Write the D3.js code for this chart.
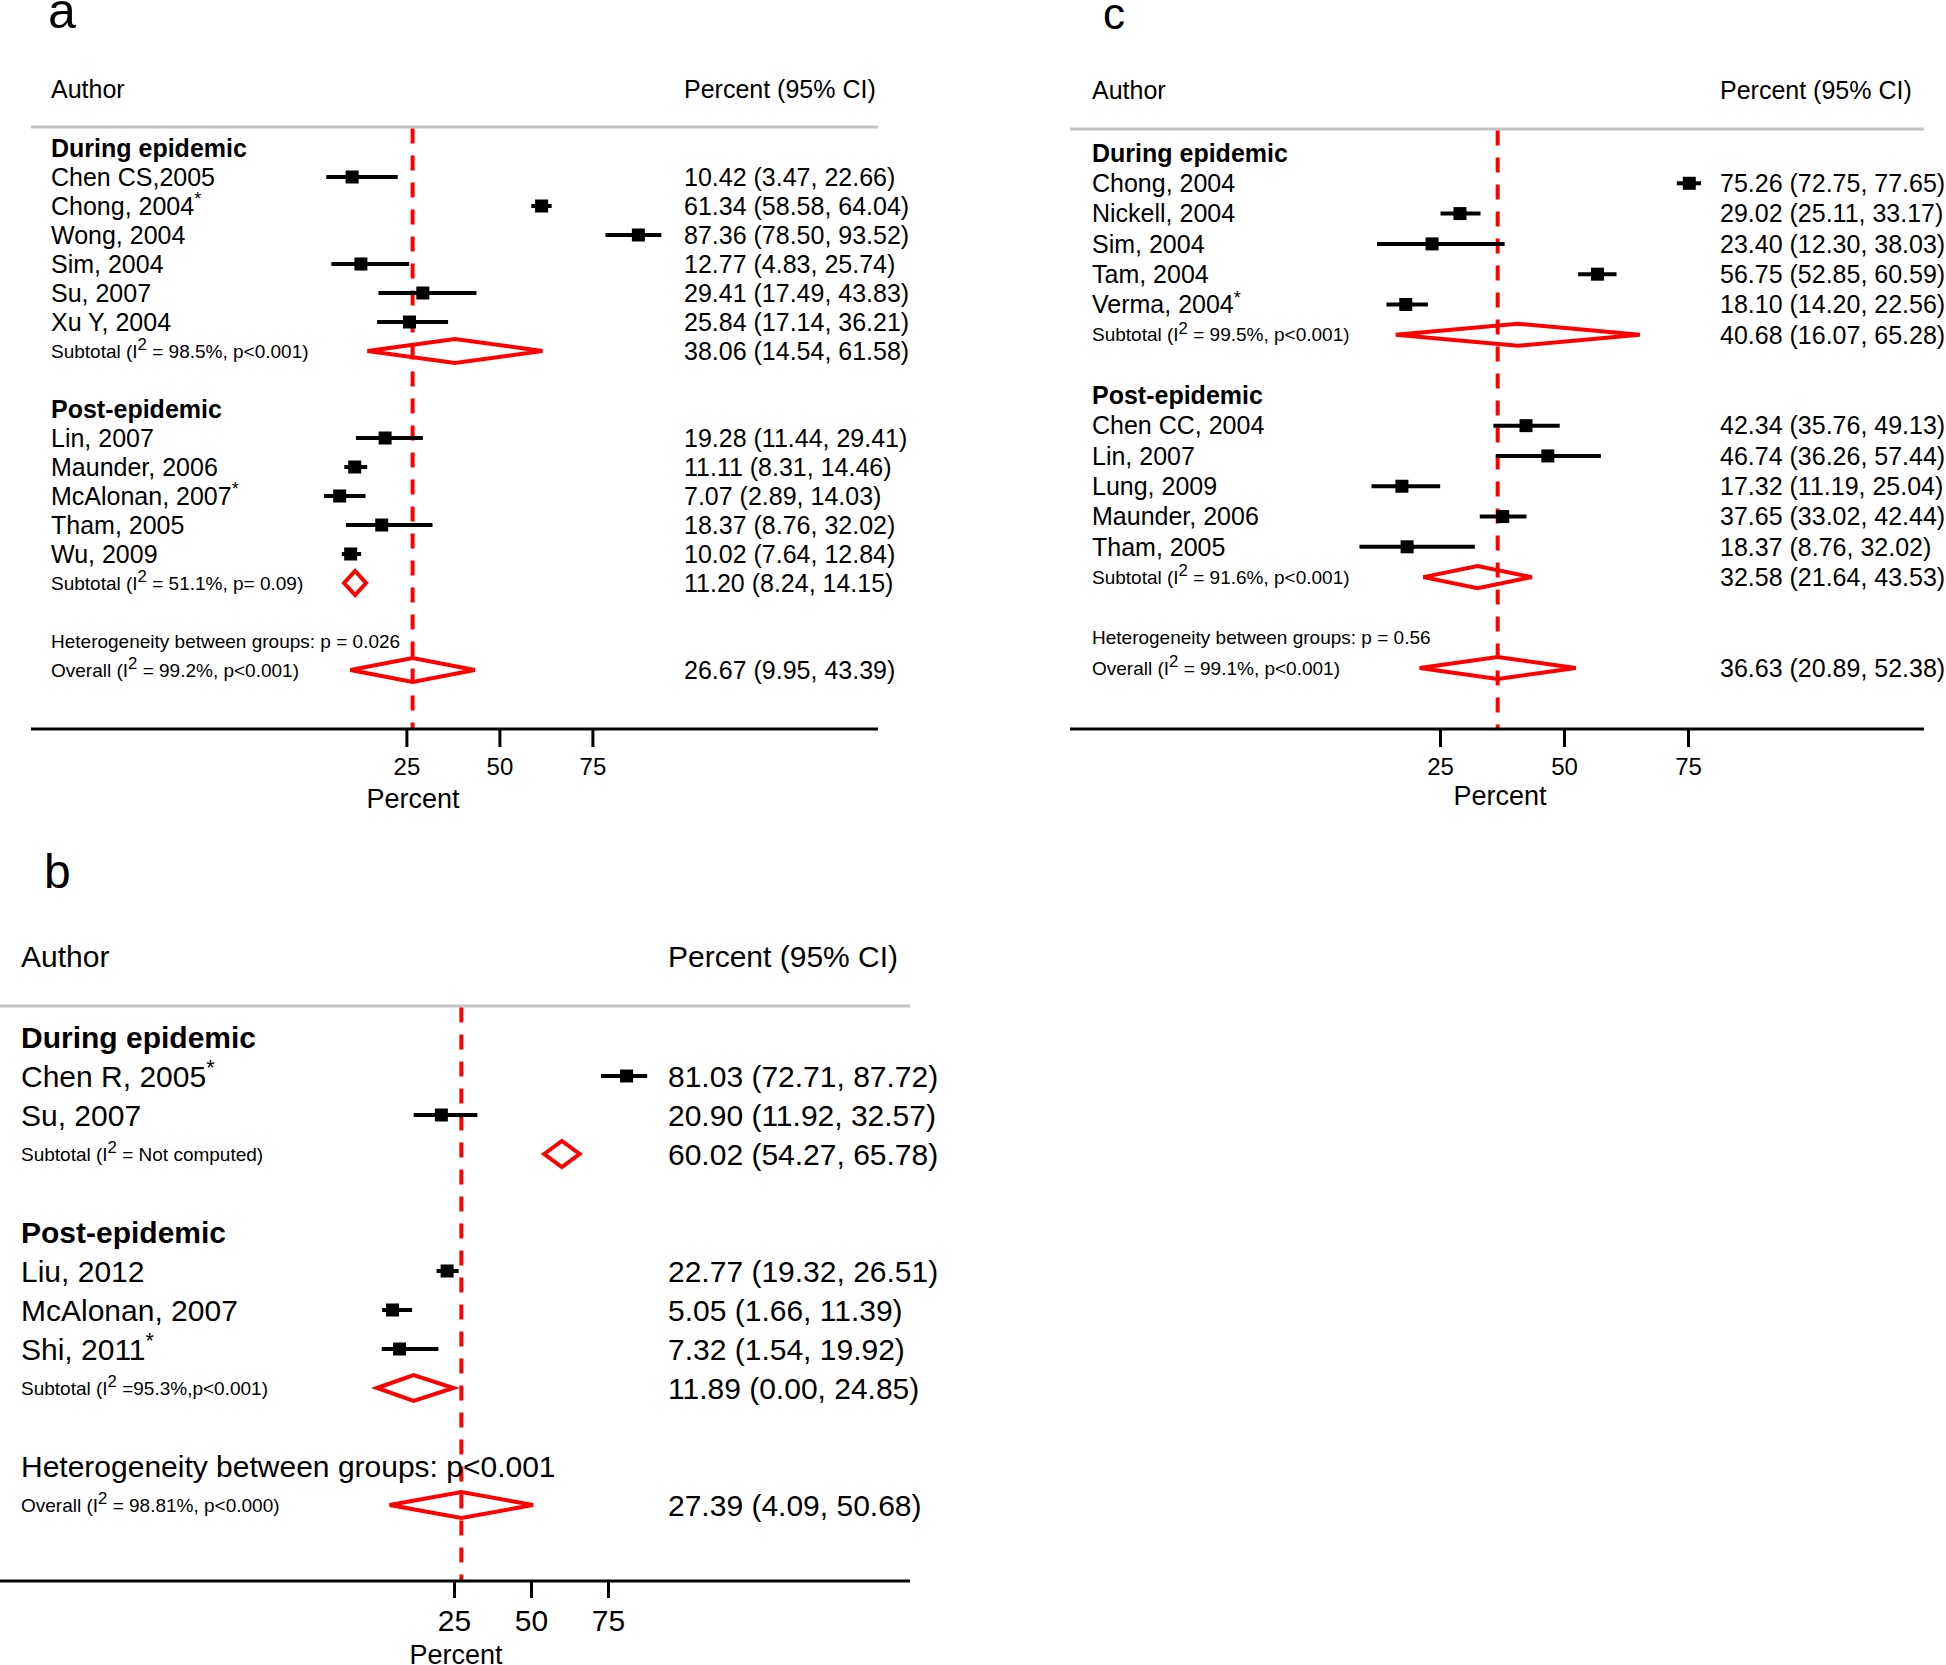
<!DOCTYPE html>
<html><head><meta charset="utf-8">
<script src="https://cdn.jsdelivr.net/npm/d3@7"></script>
<style>
body{margin:0;background:#fff}
svg{display:block}
text{font-family:"Liberation Sans",Arial,Helvetica,sans-serif;fill:#000}
</style>
</head><body>
<svg id="chart" width="1946" height="1665"></svg>
<script>
// ---------- Panel a data ----------
const aDuringAuthors = ["Chen CS,2005", "Chong, 2004*", "Wong, 2004", "Sim, 2004", "Su, 2007", "Xu Y, 2004"];
const aDuringEst  = [10.42, 61.34, 87.36, 12.77, 29.41, 25.84];
const aDuringLow  = [3.47, 58.58, 78.50, 4.83, 17.49, 17.14];
const aDuringHigh = [22.66, 64.04, 93.52, 25.74, 43.83, 36.21];
const aDuringSub  = [38.06, 14.54, 61.58];
const aDuringSubLabel = "Subtotal (I² = 98.5%, p<0.001)";
const aPostAuthors = ["Lin, 2007", "Maunder, 2006", "McAlonan, 2007*", "Tham, 2005", "Wu, 2009"];
const aPostEst  = [19.28, 11.11, 7.07, 18.37, 10.02];
const aPostLow  = [11.44, 8.31, 2.89, 8.76, 7.64];
const aPostHigh = [29.41, 14.46, 14.03, 32.02, 12.84];
const aPostSub  = [11.20, 8.24, 14.15];
const aPostSubLabel = "Subtotal (I² = 51.1%, p= 0.09)";
const aHetLabel = "Heterogeneity between groups: p = 0.026";
const aOverall = [26.67, 9.95, 43.39];
const aOverallLabel = "Overall (I² = 99.2%, p<0.001)";

// ---------- Panel b data ----------
const bDuringAuthors = ["Chen R, 2005*", "Su, 2007"];
const bDuringEst  = [81.03, 20.90];
const bDuringLow  = [72.71, 11.92];
const bDuringHigh = [87.72, 32.57];
const bDuringSub  = [60.02, 54.27, 65.78];
const bDuringSubLabel = "Subtotal (I² = Not computed)";
const bPostAuthors = ["Liu, 2012", "McAlonan, 2007", "Shi, 2011*"];
const bPostEst  = [22.77, 5.05, 7.32];
const bPostLow  = [19.32, 1.66, 1.54];
const bPostHigh = [26.51, 11.39, 19.92];
const bPostSub  = [11.89, 0.00, 24.85];
const bPostSubLabel = "Subtotal (I² =95.3%,p<0.001)";
const bHetLabel = "Heterogeneity between groups: p<0.001";
const bOverall = [27.39, 4.09, 50.68];
const bOverallLabel = "Overall (I² = 98.81%, p<0.000)";

// ---------- Panel c data ----------
const cDuringAuthors = ["Chong, 2004", "Nickell, 2004", "Sim, 2004", "Tam, 2004", "Verma, 2004*"];
const cDuringEst  = [75.26, 29.02, 23.40, 56.75, 18.10];
const cDuringLow  = [72.75, 25.11, 12.30, 52.85, 14.20];
const cDuringHigh = [77.65, 33.17, 38.03, 60.59, 22.56];
const cDuringSub  = [40.68, 16.07, 65.28];
const cDuringSubLabel = "Subtotal (I² = 99.5%, p<0.001)";
const cPostAuthors = ["Chen CC, 2004", "Lin, 2007", "Lung, 2009", "Maunder, 2006", "Tham, 2005"];
const cPostEst  = [42.34, 46.74, 17.32, 37.65, 18.37];
const cPostLow  = [35.76, 36.26, 11.19, 33.02, 8.76];
const cPostHigh = [49.13, 57.44, 25.04, 42.44, 32.02];
const cPostSub  = [32.58, 21.64, 43.53];
const cPostSubLabel = "Subtotal (I² = 91.6%, p<0.001)";
const cHetLabel = "Heterogeneity between groups: p = 0.56";
const cOverall = [36.63, 20.89, 52.38];
const cOverallLabel = "Overall (I² = 99.1%, p<0.001)";

const groupNames = ["During epidemic", "Post-epidemic"];
const tickValues = [25, 50, 75];
const colHeaders = ["Author", "Percent (95% CI)"];
const axisTitle = "Percent";

const svg = d3.select("#chart");

function fmt(v){ return v.toFixed(2); }
function ciText(a){ return fmt(a[0]) + " (" + fmt(a[1]) + ", " + fmt(a[2]) + ")"; }

function richText(sel, str, size) {
  let s = str, star = false;
  if (s.endsWith("*")) { star = true; s = s.slice(0, -1); }
  const parts = s.split("²");
  sel.append("tspan").text(parts[0]);
  if (parts.length > 1) {
    const sh = size * 0.4;
    sel.append("tspan").attr("font-size", size * 0.88).attr("dy", -sh).text("2");
    sel.append("tspan").attr("dy", sh).text(parts[1]);
  }
  if (star) {
    sel.append("tspan").attr("font-size", size * 0.72).attr("dy", -size * 0.38).text("*");
  }
}

function buildRows(d) {
  const rows = [];
  rows.push({type: "group", label: groupNames[0]});
  d.dA.forEach((a, i) => rows.push({type: "study", label: a, v: [d.dE[i], d.dL[i], d.dH[i]]}));
  rows.push({type: "sub", label: d.dSL, v: d.dS});
  rows.push({type: "blank"});
  rows.push({type: "group", label: groupNames[1]});
  d.pA.forEach((a, i) => rows.push({type: "study", label: a, v: [d.pE[i], d.pL[i], d.pH[i]]}));
  rows.push({type: "sub", label: d.pSL, v: d.pS});
  rows.push({type: "blank"});
  rows.push({type: "het", label: d.het});
  rows.push({type: "sub", label: d.oL, v: d.o});
  return rows;
}

function drawPanel(d, L) {
  const g = svg.append("g");
  const rows = buildRows(d);
  const x = d3.scaleLinear().domain([0, 75]).range(L.xr);
  const y = d3.scaleLinear().domain([0, rows.length - 1]).range(L.yr);

  g.append("text").attr("x", L.letter[0]).attr("y", L.letter[1])
    .attr("font-size", L.letter[2]).text(L.letterText);

  g.append("text").attr("x", L.textX).attr("y", L.headY).attr("font-size", L.fs).text(colHeaders[0]);
  g.append("text").attr("x", L.valX).attr("y", L.headY).attr("font-size", L.fs).text(colHeaders[1]);

  g.append("line").attr("x1", L.lineX[0]).attr("x2", L.lineX[1])
    .attr("y1", L.grayY).attr("y2", L.grayY)
    .attr("stroke", "#c3c3c3").attr("stroke-width", 3);

  // overall reference dashed line
  const ov = d.o[0];
  g.append("line").attr("x1", x(ov)).attr("x2", x(ov))
    .attr("y1", L.grayY + 1.5).attr("y2", L.axisY)
    .attr("stroke", "#ff0000").attr("stroke-width", 4).attr("stroke-dasharray", "15,12");

  rows.forEach((r, k) => {
    const yc = y(k);
    if (r.type === "group") {
      g.append("text").attr("x", L.textX).attr("y", yc + L.fs * 0.35)
        .attr("font-size", L.fs).attr("font-weight", "bold").text(r.label);
    } else if (r.type === "study") {
      const t = g.append("text").attr("x", L.textX).attr("y", yc + L.fs * 0.35).attr("font-size", L.fs);
      richText(t, r.label, L.fs);
      g.append("line").attr("x1", x(r.v[1])).attr("x2", x(r.v[2])).attr("y1", yc).attr("y2", yc)
        .attr("stroke", "#000").attr("stroke-width", 4);
      g.append("rect").attr("x", x(r.v[0]) - 6.5).attr("y", yc - 6.5)
        .attr("width", 13).attr("height", 13).attr("fill", "#000");
      g.append("text").attr("x", L.valX).attr("y", yc + L.fs * 0.35).attr("font-size", L.fs).text(ciText(r.v));
    } else if (r.type === "sub") {
      const t = g.append("text").attr("x", L.textX).attr("y", yc + L.sfs * 0.35).attr("font-size", L.sfs);
      richText(t, r.label, L.sfs);
      const h = L.dh;
      const pts = [[x(r.v[1]), yc], [x(r.v[0]), yc - h], [x(r.v[2]), yc], [x(r.v[0]), yc + h]];
      g.append("path").attr("d", d3.line()(pts) + "Z")
        .attr("fill", "none").attr("stroke", "#ff0000").attr("stroke-width", 4)
        .attr("stroke-linejoin", "miter");
      g.append("text").attr("x", L.valX).attr("y", yc + L.fs * 0.35).attr("font-size", L.fs).text(ciText(r.v));
    } else if (r.type === "het") {
      g.append("text").attr("x", L.textX).attr("y", yc + L.hfs * 0.35).attr("font-size", L.hfs).text(r.label);
    }
  });

  // axis
  g.append("line").attr("x1", L.lineX[0]).attr("x2", L.lineX[1])
    .attr("y1", L.axisY).attr("y2", L.axisY).attr("stroke", "#000").attr("stroke-width", 3);
  const ax = g.append("g").attr("transform", `translate(0,${L.axisY})`)
    .call(d3.axisBottom(x).tickValues(tickValues).tickSize(L.tickLen).tickPadding(L.tickPad).tickFormat(d3.format("d")));
  ax.select(".domain").remove();
  ax.selectAll(".tick line").attr("stroke", "#000").attr("stroke-width", 3);
  ax.selectAll(".tick text").attr("font-size", L.tfs)
    .attr("font-family", '"Liberation Sans",Arial,Helvetica,sans-serif').attr("fill", "#000");
  g.append("text").attr("x", L.titleX).attr("y", L.titleY).attr("font-size", 27)
    .attr("text-anchor", "middle").text(axisTitle);
}

drawPanel(
  {dA: aDuringAuthors, dE: aDuringEst, dL: aDuringLow, dH: aDuringHigh, dS: aDuringSub, dSL: aDuringSubLabel,
   pA: aPostAuthors, pE: aPostEst, pL: aPostLow, pH: aPostHigh, pS: aPostSub, pSL: aPostSubLabel,
   het: aHetLabel, o: aOverall, oL: aOverallLabel},
  {letterText: "a", letter: [48, 28, 50], xr: [313.4, 592.4], yr: [148, 670],
   textX: 51, valX: 684, headY: 98, fs: 25, sfs: 19, hfs: 19, tfs: 24,
   lineX: [31, 878], grayY: 127, axisY: 729, tickLen: 18, tickPad: 11,
   titleX: 413, titleY: 808, dh: 12}
);

drawPanel(
  {dA: cDuringAuthors, dE: cDuringEst, dL: cDuringLow, dH: cDuringHigh, dS: cDuringSub, dSL: cDuringSubLabel,
   pA: cPostAuthors, pE: cPostEst, pL: cPostLow, pH: cPostHigh, pS: cPostSub, pSL: cPostSubLabel,
   het: cHetLabel, o: cOverall, oL: cOverallLabel},
  {letterText: "c", letter: [1103, 29, 44], xr: [1316, 1688], yr: [153, 668],
   textX: 1092, valX: 1720, headY: 99, fs: 25, sfs: 19, hfs: 19, tfs: 24,
   lineX: [1070, 1924], grayY: 129, axisY: 729, tickLen: 18, tickPad: 11,
   titleX: 1500, titleY: 805, dh: 11}
);

drawPanel(
  {dA: bDuringAuthors, dE: bDuringEst, dL: bDuringLow, dH: bDuringHigh, dS: bDuringSub, dSL: bDuringSubLabel,
   pA: bPostAuthors, pE: bPostEst, pL: bPostLow, pH: bPostHigh, pS: bPostSub, pSL: bPostSubLabel,
   het: bHetLabel, o: bOverall, oL: bOverallLabel},
  {letterText: "b", letter: [44, 888, 48], xr: [377, 608], yr: [1037, 1505],
   textX: 21, valX: 668, headY: 967, fs: 30, sfs: 19, hfs: 30, tfs: 30,
   lineX: [0, 910], grayY: 1006, axisY: 1581, tickLen: 17, tickPad: 12,
   titleX: 456, titleY: 1664, dh: 13}
);
</script>
</body></html>
